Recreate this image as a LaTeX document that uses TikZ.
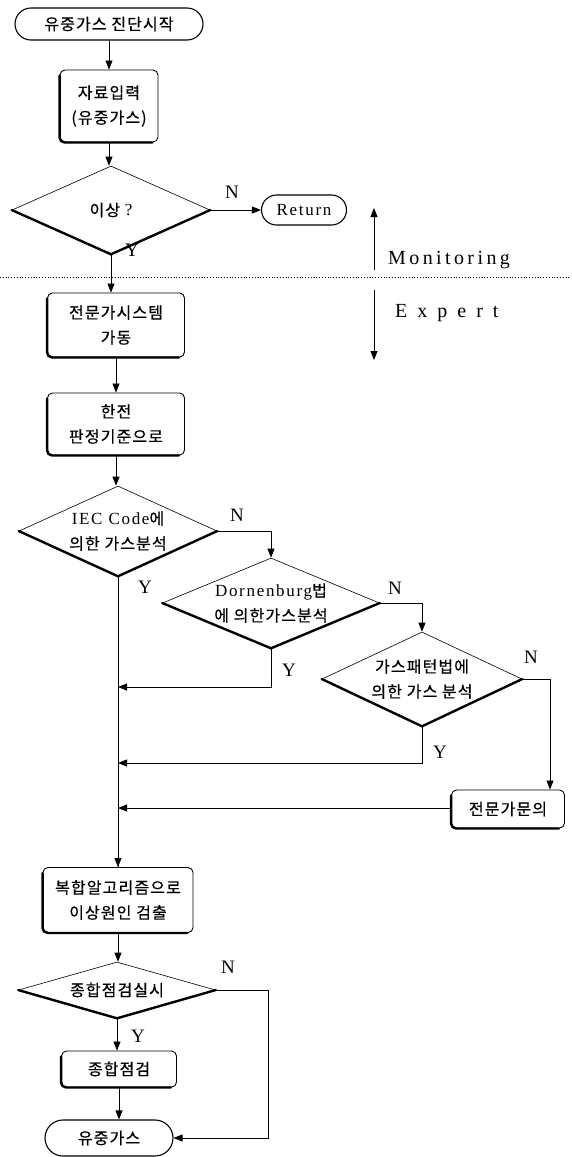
\documentclass[tikz,border=0pt]{standalone}
\usepackage{fontspec}
\setmainfont{Liberation Serif}
\newfontfamily\kr[LetterSpace=7,FakeBold=0.6]{Noto Sans CJK KR}
\newfontfamily\lat[LetterSpace=10]{Liberation Serif}
\newfontfamily\monfont[LetterSpace=17]{Liberation Serif}
\newfontfamily\expfont[LetterSpace=50]{Liberation Serif}
\usetikzlibrary{arrows.meta,shapes.geometric,calc}
\newcommand\latpart[1]{{\fontsize{17}{25}\lat #1}}
\tikzset{
  arr/.style={line width=0.8pt,-{Triangle[length=9pt,width=7pt]}},
  ln/.style={line width=0.8pt},
  kfont/.style={font=\fontsize{16}{25}\kr},
  boxn/.style={draw, line width=0.9pt, rounded corners=5pt, align=center, kfont, inner sep=0pt},
  termn/.style={draw, line width=1.1pt, rounded corners=15pt, align=center, kfont, inner sep=0pt},
  dian/.style={draw, shape=diamond, line width=0.6pt, inner sep=0pt},
  dtext/.style={align=center, kfont, inner sep=0pt},
  lab/.style={font=\fontsize{19}{19}\selectfont, inner sep=0pt},
  thk/.style={line width=2.4pt, line cap=round},
}
\newcommand\shadowedge[1]{\draw[thk, rounded corners=5pt] ($(#1.north west)+(0,6)$) -- (#1.south west) -- ($(#1.south east)+(-6,0)$);}
\newcommand\diaedge[1]{\draw[thk] (#1.west) -- (#1.south) -- (#1.east);}
\begin{document}
\begin{tikzpicture}[x=1pt,y=-1pt]
\useasboundingbox (0,0) rectangle (571,1157);
% --- nodes ---
\node[termn, minimum width=188pt, minimum height=32pt, rounded corners=16pt] (start) at (109,24) {유중가스 진단시작};
\node[boxn, minimum width=98pt, minimum height=72pt] (b1) at (109,106) {자료입력\\(유중가스)};
\node[dian, minimum width=198pt, minimum height=88pt] (d0) at (111,210) {};
\node[dtext] (d0t) at (d0) {이상 \latpart{?}};
\node[termn, minimum width=85pt, minimum height=30pt] (ret) at (304,210) {\latpart{Return}};
\node[boxn, minimum width=137pt, minimum height=64pt] (b2) at (116,325) {전문가시스템\\가동};
\node[boxn, minimum width=137pt, minimum height=62pt] (b3) at (116,424) {한전\\판정기준으로};
\node[dian, minimum width=198pt, minimum height=90pt] (d1) at (118,531) {};
\node[dtext] (d1t) at (d1) {\latpart{IEC Code}에\\의한 가스분석};
\node[dian, minimum width=217pt, minimum height=90pt] (d2) at (271,603) {};
\node[dtext] (d2t) at (d2) {\latpart{Dornenburg}법\\에 의한가스분석};
\node[dian, minimum width=200pt, minimum height=94pt] (d3) at (422,679) {};
\node[dtext] (d3t) at (d3) {가스패턴법에\\의한 가스 분석};
\node[boxn, minimum width=113pt, minimum height=38pt] (ex) at (508,809) {전문가문의};
\node[boxn, minimum width=150pt, minimum height=65pt] (b4) at (118,900) {복합알고리즘으로\\이상원인 검출};
\node[dian, minimum width=197pt, minimum height=56pt] (d4) at (117,990) {};
\node[dtext] (d4t) at (d4) {종합점검실시};
\node[boxn, minimum width=115pt, minimum height=36pt] (b5) at (119,1069) {종합점검};
\node[termn, minimum width=128pt, minimum height=36pt, rounded corners=18pt] (term) at (109,1138) {유중가스};
% --- heavy edges ---
\shadowedge{b1}\shadowedge{b2}\shadowedge{b3}\shadowedge{ex}\shadowedge{b4}\shadowedge{b5}
\diaedge{d0}\diaedge{d1}\diaedge{d2}\diaedge{d3}\diaedge{d4}
% --- labels ---
\node[lab] (n0) at (232,192) {N};
\node[lab] (y0) at (132,250) {Y};
\node[lab] (n1) at (237,515) {N};
\node[lab] (y1) at (145,587) {Y};
\node[lab] (n2) at (395,588) {N};
\node[lab] (y2) at (289,670) {Y};
\node[lab] (n3) at (531,657) {N};
\node[lab] (y3) at (440,752) {Y};
\node[lab] (n4) at (228,967) {N};
\node[lab] (y4) at (138,1036) {Y};
% --- monitoring / expert ---
\coordinate (dl) at (0,277);
\coordinate (dr) at (571,277);
\draw[line width=0.8pt, dotted] (dl) -- (dr);
\coordinate (m1) at (374,270);
\coordinate (m2) at (374,208);
\coordinate (e1) at (374,290);
\coordinate (e2) at (374,360);
\draw[arr] (m1) -- (m2);
\draw[arr] (e1) -- (e2);
\node[font=\fontsize{20}{20}\monfont, anchor=base west, inner sep=0pt] (mon) at (388,264) {Monitoring};
\node[font=\fontsize{20}{20}\expfont, anchor=base west, inner sep=0pt] (exp) at (395,317) {Expert};
% --- connectors ---
\draw[arr] (start.south) -- (start.south |- b1.north);
\draw[arr] (b1.south) -- (b1.south |- d0.north);
\draw[arr] (d0.east) -- (ret.west);
\draw[arr] (d0.south) -- (d0.south |- b2.north);
\draw[arr] (b2.south) -- (b2.south |- b3.north);
\draw[arr] (b3.south) -- (b3.south |- d1.north);
\draw[arr] (d1.east) -| (d2.north);
\draw[arr] (d2.east) -| (d3.north);
\draw[arr] (d3.east) -| ($(ex.north)+(42,0)$);
\draw[ln] (d1.south) -- (d1.south |- b4.north);
\draw[arr] (d1.south |- b4.north) ++(0,-16) -- (d1.south |- b4.north);
\coordinate (j1) at (118,687);
\coordinate (j2) at (118,763);
\coordinate (j3) at (118,808);
\draw[arr] (d2.south) |- (j1);
\draw[arr] (d3.south) |- (j2);
\draw[arr] (ex.west |- j3) -- (j3);
\draw[arr] (b4.south) -- (b4.south |- d4.north);
\draw[arr] (d4.south) -- (d4.south |- b5.north);
\draw[arr] (b5.south) -- (b5.south |- term.north);
\draw[arr] (d4.east) -- ++(53,0) |- (term.east);
\end{tikzpicture}
\end{document}
